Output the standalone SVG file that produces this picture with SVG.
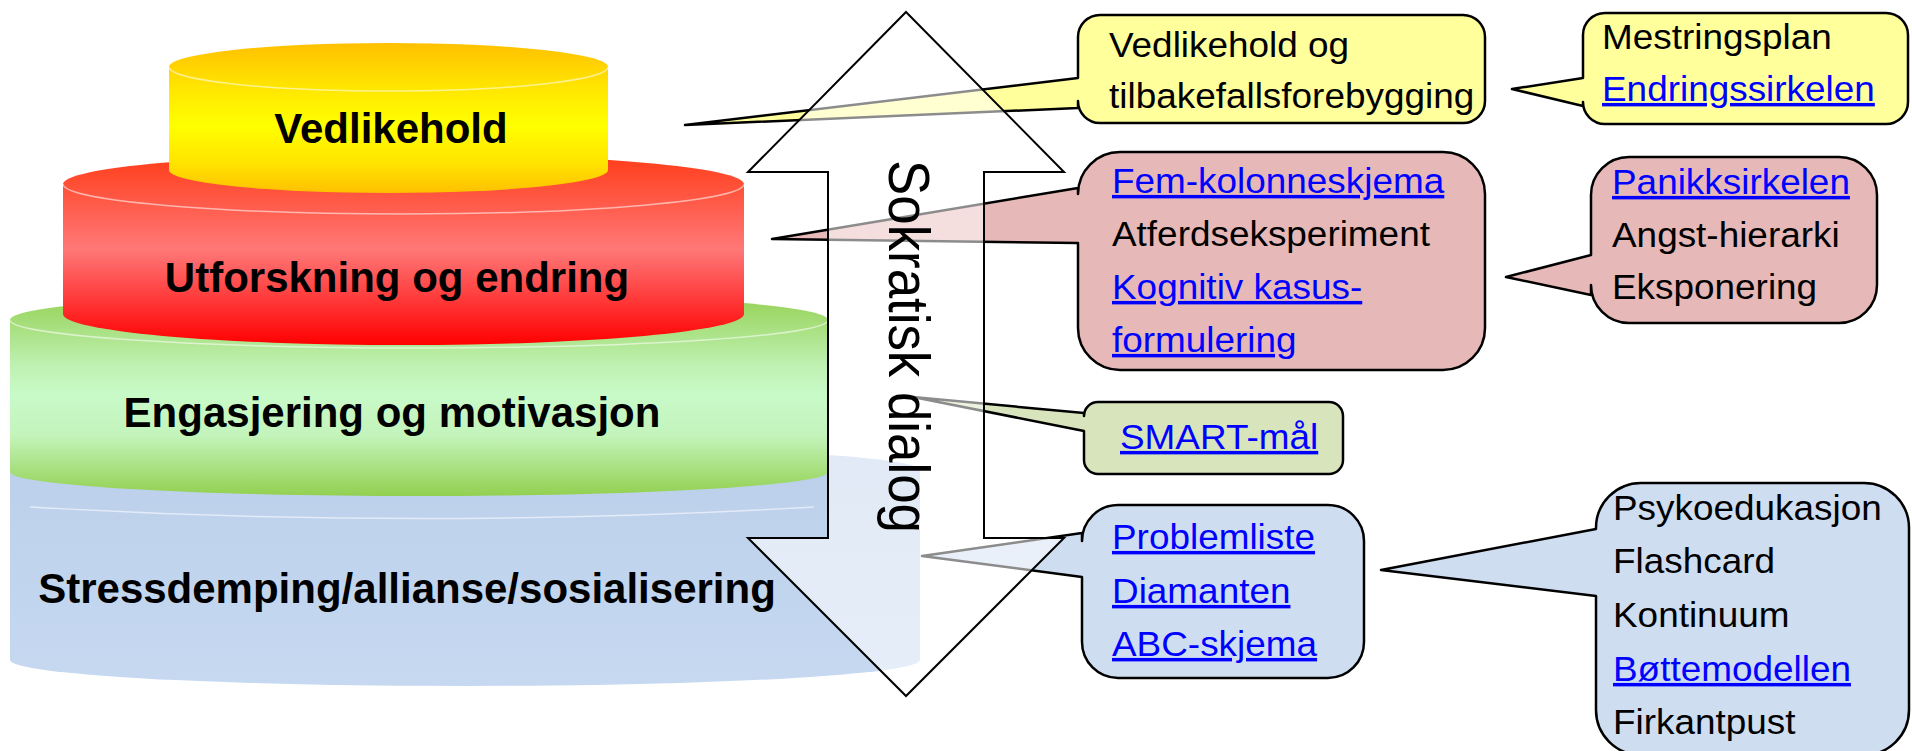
<svg xmlns="http://www.w3.org/2000/svg" width="1912" height="751" viewBox="0 0 1912 751">
<defs>
<linearGradient id="gY" x1="0" y1="0" x2="0" y2="1">
<stop offset="0" stop-color="#FFC000"/><stop offset="0.3" stop-color="#FFE600"/><stop offset="0.55" stop-color="#FFFF00"/><stop offset="0.8" stop-color="#FFE400"/><stop offset="1" stop-color="#FFC000"/>
</linearGradient>
<linearGradient id="gR" x1="0" y1="0" x2="0" y2="1">
<stop offset="0" stop-color="#FF3C18"/><stop offset="0.5" stop-color="#FF7878"/><stop offset="1" stop-color="#FF0000"/>
</linearGradient>
<linearGradient id="gG" x1="0" y1="0" x2="0" y2="1">
<stop offset="0" stop-color="#92D050"/><stop offset="0.35" stop-color="#BEF0B0"/><stop offset="0.5" stop-color="#C8FAC8"/><stop offset="0.7" stop-color="#C4F4BC"/><stop offset="1" stop-color="#92D050"/>
</linearGradient>
<linearGradient id="gB" x1="0" y1="0" x2="0" y2="1">
<stop offset="0" stop-color="#BCCFEA"/><stop offset="1" stop-color="#C6D9F1"/>
</linearGradient>
<style>
.lvl{font-family:"Liberation Sans",Arial,sans-serif;font-weight:bold;font-size:42px;text-anchor:middle;fill:#000}
.co{font-family:"Liberation Sans",Arial,sans-serif;font-size:34.5px;fill:#000}
.lnk{fill:#0000FF;text-decoration:underline}
.edge{fill:none;stroke:#FFFFFF;stroke-opacity:0.55;stroke-width:1.5}
.box{stroke:#000;stroke-width:2.5;stroke-linejoin:round}
.yel{fill:#FFFF9C}
.red{fill:#E6B8B7}
.grn{fill:#D7E4BC}
.blu{fill:#CFDDF1}
</style>
</defs>
<rect width="1912" height="751" fill="#FFFFFF"/>

<g id="level-stress">
<path d="M10,470 L10,660 A455,26 0 0 0 920,660 L920,470 A455,25 0 0 0 10,470 Z" fill="url(#gB)"/>
<path class="edge" d="M30,507 Q422,530 814,507"/>
<text class="lvl" x="407" y="603">Stressdemping/allianse/sosialisering</text>
</g>

<g id="level-engasjering">
<path d="M10,320 L10,472 A409,24 0 0 0 828,472 L828,320 A409,28 0 0 0 10,320 Z" fill="url(#gG)"/>
<path class="edge" d="M10,320 A409,28 0 0 0 828,320"/>
<text class="lvl" x="392" y="427">Engasjering og motivasjon</text>
</g>

<g id="level-utforskning">
<path d="M63,184 L63,314 A340.5,31 0 0 0 744,314 L744,184 A340.5,30 0 0 0 63,184 Z" fill="url(#gR)"/>
<path class="edge" d="M63,184 A340.5,30 0 0 0 744,184"/>
<text class="lvl" x="397" y="292">Utforskning og endring</text>
</g>

<g id="level-vedlikehold">
<path d="M169,67 L169,170 A219.5,23 0 0 0 608,170 L608,67 A219.5,24 0 0 0 169,67 Z" fill="url(#gY)"/>
<path class="edge" d="M169,67 A219.5,24 0 0 0 608,67"/>
<text class="lvl" x="391" y="143">Vedlikehold</text>
</g>

<g id="callout-vedlikehold">
<path class="box yel" d="M1100,15 H1463 A22,22 0 0 1 1485,37 V101 A22,22 0 0 1 1463,123 H1100 A22,22 0 0 1 1078,101 V108 L685,125 L1078,78 V37 A22,22 0 0 1 1100,15 Z"/>
<g transform="matrix(1.07 0 0 1 -77.63 0)">
<text class="co" x="1109" y="57">Vedlikehold og</text>
<text class="co" x="1109" y="108">tilbakefallsforebygging</text>
</g>
</g>

<g id="callout-mestring">
<path class="box yel" d="M1605,13 H1886 A22,22 0 0 1 1908,35 V102 A22,22 0 0 1 1886,124 H1605 A22,22 0 0 1 1583,102 V106 L1512,89 L1583,78 V35 A22,22 0 0 1 1605,13 Z"/>
<g transform="matrix(1.07 0 0 1 -112.14 0)">
<text class="co" x="1602" y="49">Mestringsplan</text>
<text class="co lnk" x="1602" y="101">Endringssirkelen</text>
</g>
</g>

<g id="callout-utforskning">
<path class="box red" d="M1120,152 H1443 A42,42 0 0 1 1485,194 V328 A42,42 0 0 1 1443,370 H1120 A42,42 0 0 1 1078,328 V243 L772,239 L1078,188 V194 A42,42 0 0 1 1120,152 Z"/>
<g transform="matrix(1.07 0 0 1 -77.84 0)">
<text class="co lnk" x="1112" y="193">Fem-kolonneskjema</text>
<text class="co" x="1112" y="246">Atferdseksperiment</text>
<text class="co lnk" x="1112" y="299">Kognitiv kasus-</text>
<text class="co lnk" x="1112" y="352">formulering</text>
</g>
</g>

<g id="callout-panikk">
<path class="box red" d="M1629,157 H1839 A38,38 0 0 1 1877,195 V285 A38,38 0 0 1 1839,323 H1629 A38,38 0 0 1 1591,285 V295 L1506,277 L1591,255 V195 A38,38 0 0 1 1629,157 Z"/>
<g transform="matrix(1.07 0 0 1 -112.84 0)">
<text class="co lnk" x="1612" y="194">Panikksirkelen</text>
<text class="co" x="1612" y="247">Angst-hierarki</text>
<text class="co" x="1612" y="299">Eksponering</text>
</g>
</g>

<g id="callout-smart">
<path class="box grn" d="M1098,402 H1329 A14,14 0 0 1 1343,416 V460 A14,14 0 0 1 1329,474 H1098 A14,14 0 0 1 1084,460 V431 L913,397 L1084,413 V416 A14,14 0 0 1 1098,402 Z"/>
<g transform="matrix(1.07 0 0 1 -78.4 0)">
<text class="co lnk" x="1120" y="449">SMART-mål</text>
</g>
</g>

<g id="callout-problem">
<path class="box blu" d="M1118,505 H1328 A36,36 0 0 1 1364,541 V642 A36,36 0 0 1 1328,678 H1118 A36,36 0 0 1 1082,642 V577 L922,556 L1082,533 V541 A36,36 0 0 1 1118,505 Z"/>
<g transform="matrix(1.07 0 0 1 -77.84 0)">
<text class="co lnk" x="1112" y="549">Problemliste</text>
<text class="co lnk" x="1112" y="603">Diamanten</text>
<text class="co lnk" x="1112" y="656">ABC-skjema</text>
</g>
</g>

<g id="callout-psyko">
<path class="box blu" d="M1641,483 H1864 A45,45 0 0 1 1909,528 V710 A45,45 0 0 1 1864,755 H1641 A45,45 0 0 1 1596,710 V596 L1381,570 L1596,529 V528 A45,45 0 0 1 1641,483 Z"/>
<g transform="matrix(1.07 0 0 1 -112.91 0)">
<text class="co" x="1613" y="520">Psykoedukasjon</text>
<text class="co" x="1613" y="573">Flashcard</text>
<text class="co" x="1613" y="627">Kontinuum</text>
<text class="co lnk" x="1613" y="681">Bøttemodellen</text>
<text class="co" x="1613" y="734">Firkantpust</text>
</g>
</g>

<g id="connectors">
<path d="M906,12 L1064,172 L984,172 L984,538 L1064,538 L906,696 L748,538 L828,538 L828,172 L748,172 Z" fill="#FFFFFF" fill-opacity="0.55" stroke="#000" stroke-width="2" stroke-linejoin="miter"/>
<text transform="translate(889,160) rotate(90)" font-family="Liberation Sans, Arial, sans-serif" font-size="57" textLength="373" lengthAdjust="spacingAndGlyphs" fill="#000">Sokratisk dialog</text>
</g>
</svg>
